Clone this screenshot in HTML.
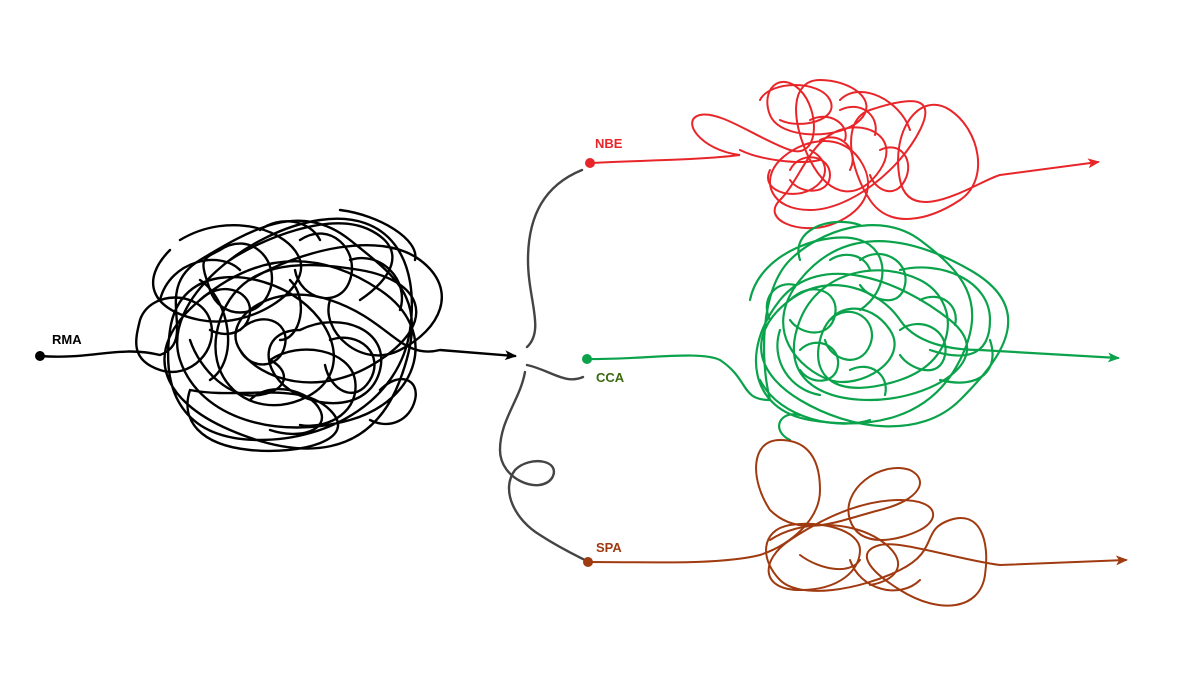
<!DOCTYPE html>
<html><head><meta charset="utf-8"><style>
html,body{margin:0;padding:0;background:#fff;}
svg{display:block}
text{font-family:"Liberation Sans",sans-serif;font-weight:bold;font-size:13px}
</style></head><body>
<svg width="1200" height="675" viewBox="0 0 1200 675" xmlns="http://www.w3.org/2000/svg">
<defs>
<marker id="ab" markerWidth="12" markerHeight="10" refX="10" refY="5" orient="auto" markerUnits="userSpaceOnUse"><path d="M0,0 L12,5 L0,10 L3,5 z" fill="#000"/></marker>
<marker id="ar" markerWidth="12" markerHeight="10" refX="10" refY="5" orient="auto" markerUnits="userSpaceOnUse"><path d="M0,0 L12,5 L0,10 L3,5 z" fill="#e8262a"/></marker>
<marker id="ag" markerWidth="12" markerHeight="10" refX="10" refY="5" orient="auto" markerUnits="userSpaceOnUse"><path d="M0,0 L12,5 L0,10 L3,5 z" fill="#0aa24a"/></marker>
<marker id="abr" markerWidth="12" markerHeight="10" refX="10" refY="5" orient="auto" markerUnits="userSpaceOnUse"><path d="M0,0 L12,5 L0,10 L3,5 z" fill="#a03a10"/></marker>
</defs>

<!-- black -->
<g fill="none" stroke="#000" stroke-width="2.4" stroke-linecap="round">
<path d="M40,356 C90,360 120,345 160,355 C200,340 150,290 200,260 S300,200 350,240 S430,300 400,380 S300,460 230,430 S140,350 200,300 S320,250 380,290 S420,400 350,420 S200,420 180,360 S250,230 320,220 S420,260 410,330 S330,440 260,440 S160,400 170,330 S260,270 300,300 S350,380 300,400 S200,380 220,320 S300,260 360,270 S440,320 380,360 S260,380 240,350 S270,280 330,300 S400,360 440,350 L515,356" marker-end="url(#ab)"/>
<path d="M180,240 C230,210 290,230 300,260 S250,330 200,320 S140,280 170,250 M250,280 C300,250 380,230 420,260 S440,330 400,350 S320,330 330,300 M190,390 C240,400 300,380 330,410 S300,455 250,450 S180,420 190,390 M300,330 C340,310 390,330 380,370 S320,410 290,390 S260,330 300,330 M140,320 C150,290 200,290 210,320 S190,380 160,370 S135,340 140,320 M230,260 C260,240 330,210 370,230 S390,280 360,300 M270,360 C300,340 350,350 355,380 S330,430 300,425 M200,280 C230,300 240,360 210,380 M340,210 C380,215 420,240 415,260"/>
<path d="M220,250 C250,230 280,260 270,290 S220,320 210,290 S200,260 220,250 M300,240 C330,220 360,250 350,280 S300,300 295,270 M240,330 C260,310 290,320 285,345 S250,370 240,350 M330,340 C360,330 385,355 370,380 S330,390 325,365 M190,340 C200,370 230,400 260,395 S290,370 270,360 M250,400 C270,380 310,390 320,410 S300,440 270,430 M350,260 C380,250 410,280 400,310 M200,300 C220,280 250,290 250,310 S230,340 210,330 M160,300 C170,260 220,250 240,270 M380,390 C400,370 420,380 415,400 S390,430 370,420 M290,280 C310,300 300,340 280,340 M260,230 C280,215 310,220 320,240"/>
</g>
<circle cx="40" cy="356" r="5" fill="#000"/>
<text x="52" y="344" fill="#000">RMA</text>

<!-- grey connectors -->
<g fill="none" stroke="#444" stroke-width="2.4" stroke-linecap="round">
<path d="M582,170 C545,185 528,215 528,260 C528,300 545,330 527,347"/>
<path d="M527,365 C550,370 565,385 583,377"/>
<path d="M525,372 C520,400 500,420 500,450 C500,480 540,495 552,478 C562,460 530,455 515,470 C500,490 515,520 540,535 C560,548 575,555 585,560"/>
</g>

<!-- red -->
<g fill="none" stroke="#e8262a" stroke-width="2" stroke-linecap="round">
<path d="M590,163 C650,160 700,160 740,155 C700,150 680,120 700,115 S760,140 790,150 S820,110 800,90 S760,90 770,115 S840,140 860,120 S850,80 820,80 S790,120 810,160 S860,200 880,170 S870,120 840,130 S800,180 780,200 S800,235 830,225 S880,190 860,160 S800,140 780,160 S770,210 810,210 S900,170 920,130 S900,100 870,110 S850,170 870,200 S930,220 960,200 S980,130 950,110 S890,130 900,180 S980,180 1000,175 L1098,162" marker-end="url(#ar)"/>
<path d="M760,100 C770,80 820,80 830,100 S800,130 780,120 M840,100 C860,80 900,100 910,130 M770,170 C760,190 790,200 810,190 S830,160 810,150 M820,140 C840,130 860,150 850,170"/>
<path d="M790,170 C800,150 830,155 830,175 S800,195 790,180 M840,110 C860,100 880,115 875,135 M880,150 C900,140 915,160 905,180 S875,190 870,175 M740,150 C760,160 800,165 820,160 M810,120 C830,110 850,125 845,140"/>
</g>
<circle cx="590" cy="163" r="5" fill="#e8262a"/>
<text x="595" y="148" fill="#e8262a">NBE</text>

<!-- green -->
<g fill="none" stroke="#0aa24a" stroke-width="2.2" stroke-linecap="round">
<path d="M587,359 C640,360 700,350 720,360 C750,380 740,400 770,400 C760,360 760,290 790,260 S880,210 920,240 S990,300 960,360 S870,430 810,420 S740,350 780,300 S900,280 950,320 S930,400 870,400 S780,370 800,320 S880,260 920,280 S960,360 900,380 S810,380 820,340 S870,300 890,330 S860,390 830,380 S760,330 800,280 S900,230 970,270 S1000,360 960,400 S850,430 800,400 S750,330 790,300 S880,290 900,320 S970,350 980,350 L1118,358" marker-end="url(#ag)"/>
<path d="M750,300 C760,250 830,230 860,240 S890,290 860,310 M760,380 C780,420 840,430 870,420 M900,270 C940,260 990,280 990,320 S960,360 930,350 M830,320 C850,300 880,320 870,345 S830,360 825,340 M800,260 C790,230 830,215 860,225 M940,380 C980,390 1000,370 990,340 M780,330 C770,360 790,390 820,395 M790,440 C770,430 780,410 800,415"/>
<path d="M790,300 C810,280 840,290 835,315 S800,335 790,320 M860,260 C880,245 910,260 905,285 S870,300 860,285 M900,330 C920,315 950,330 945,355 S910,370 900,355 M800,350 C815,335 840,345 838,365 S810,385 800,370 M850,370 C870,360 890,375 885,395 M770,320 C760,300 775,280 795,285 M920,300 C940,290 960,305 955,325 M830,260 C845,250 865,255 870,270"/>
</g>
<circle cx="587" cy="359" r="5" fill="#0aa24a"/>
<text x="596" y="382" fill="#3a6a10">CCA</text>

<!-- brown -->
<g fill="none" stroke="#a03a10" stroke-width="2" stroke-linecap="round">
<path d="M588,562 C650,562 720,565 760,555 C790,545 820,520 820,490 C820,450 800,440 780,440 C750,440 750,480 770,510 C800,540 840,520 880,510 C920,500 930,480 910,470 C880,460 840,490 850,520 S900,540 920,530 S940,500 900,500 S820,520 790,540 S760,590 800,590 S860,570 860,550 S820,520 790,525 S760,560 780,580 S860,590 900,570 S920,530 950,520 S990,540 985,575 S940,615 900,590 S860,550 880,545 S960,560 1000,565 L1126,560" marker-end="url(#abr)"/>
<path d="M770,540 C800,520 850,520 880,540 S900,580 870,585 M850,560 C860,590 900,600 920,580 M800,555 C820,570 850,575 860,560"/>
</g>
<circle cx="588" cy="562" r="5" fill="#a03a10"/>
<text x="596" y="552" fill="#a03a10">SPA</text>
</svg>
</body></html>
